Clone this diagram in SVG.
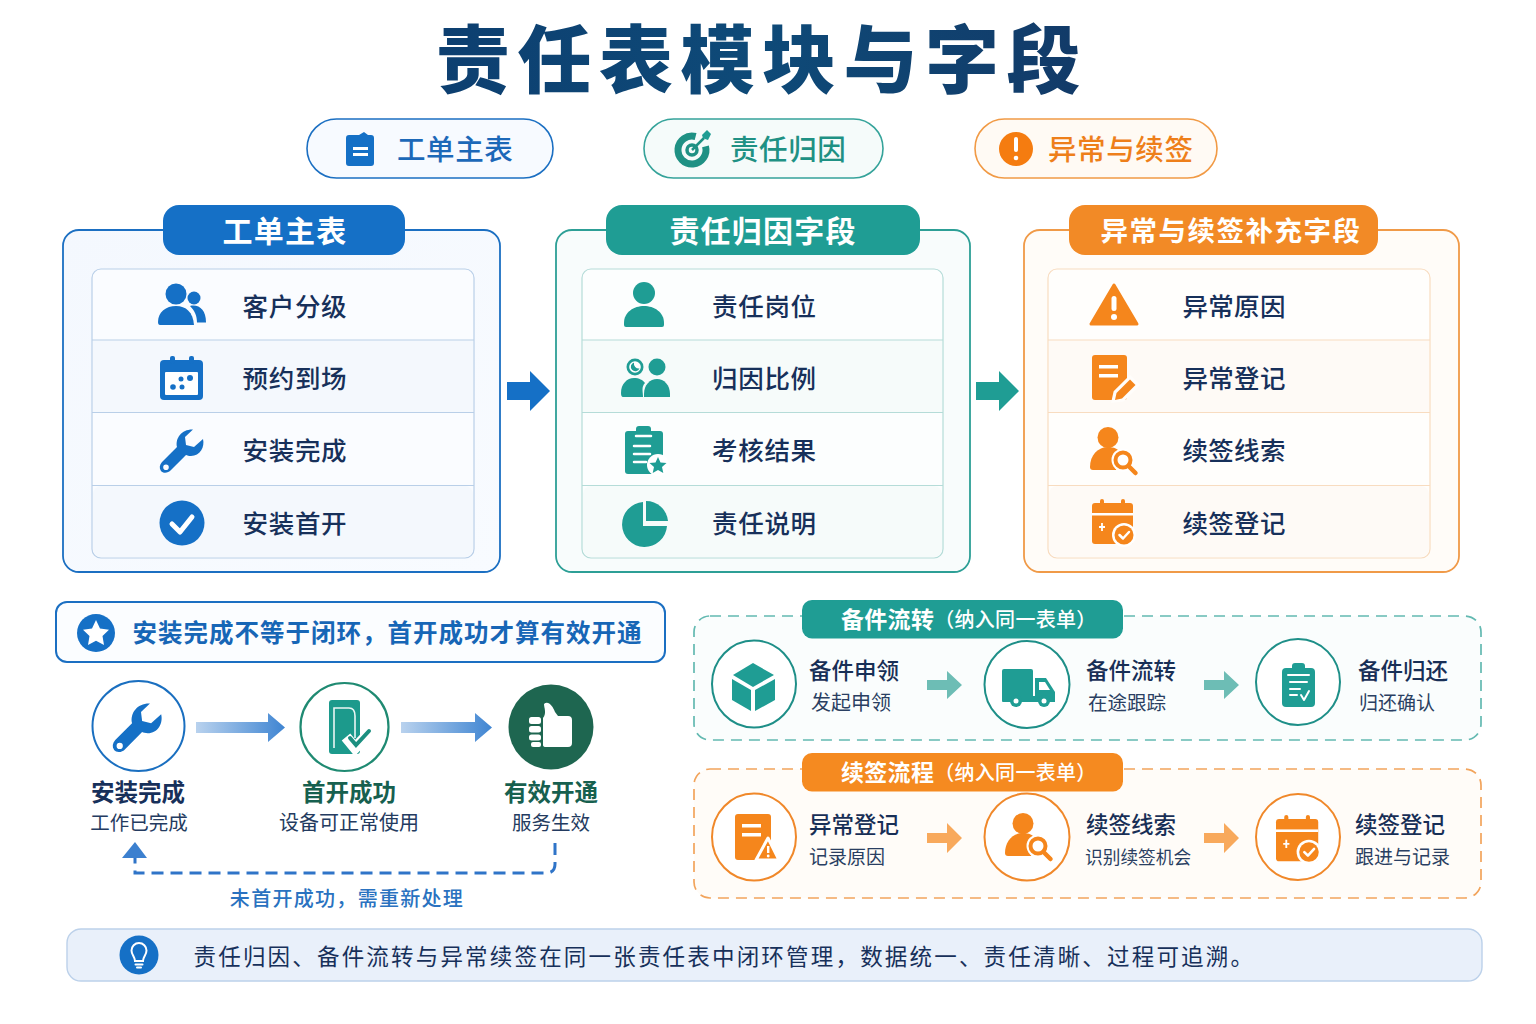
<svg xmlns="http://www.w3.org/2000/svg" width="1536" height="1024" viewBox="0 0 1536 1024">
<style>
text{font-family:"Noto Sans CJK SC","Noto Sans",sans-serif;dominant-baseline:central}
.m{text-anchor:middle}
.hd{font-size:30px;font-weight:700;fill:#fff;letter-spacing:1.2px;text-anchor:middle}
.row{font-size:25.5px;font-weight:500;fill:#17305a;letter-spacing:.7px}
.pill{font-size:28.5px;font-weight:500;letter-spacing:.6px}
.t1{font-size:22.5px;font-weight:500;fill:#182f56}
.t2{font-size:19px;fill:#2a3f62}
.fb{fill:#1570c6}.ft{fill:#1f9d94}.fo{fill:#f5861c}.w{fill:#fff}
.sw{fill:none;stroke:#fff;stroke-linecap:round;stroke-linejoin:round}
.sep{stroke-width:1.2}
.cb{fill:#fff;stroke:#1a6fc0;stroke-width:2}
.ct{fill:#fff;stroke:#1e8f88;stroke-width:2}
.co{fill:#fff;stroke:#f0882a;stroke-width:2}
</style>
<defs>
<linearGradient id="gt" x1="0" x2="1" y1="0" y2="0"><stop offset="0" stop-color="#0d3f70"/><stop offset=".5" stop-color="#0e4a78"/><stop offset="1" stop-color="#123a68"/></linearGradient>
<linearGradient id="ga" x1="0" x2="1" y1="0" y2="0"><stop offset="0" stop-color="#b9d2ee"/><stop offset="1" stop-color="#3f85d2"/></linearGradient>
<linearGradient id="gc1" x1="0" x2="1" y1="0" y2="1"><stop offset="0" stop-color="#f4f8fe"/><stop offset="1" stop-color="#f8fbff"/></linearGradient>
<g id="i-wrench"><path fill-rule="evenodd" d="M33 .5 25 8 26 16 34 18 43 10C45 18 40 27 31 27 29 27 27 26.500 26 26L11 41C8 44.500 3 44.500 1 42-1 39-.5 36 2 33L17 18C15 9 22 0 33 .5ZM6 35.500A2.800 2.800 0 1 0 6 41.100 2.800 2.800 0 1 0 6 35.500Z"/></g>
<g id="i-psearch"><circle cx="18" cy="10.500" r="10.500"/><path d="M0 40C0 28 8 20 18 20 24 20 28 22 31 26L26 43H3Q0 43 0 40Z"/><circle cx="33" cy="33" r="11.500" fill="#fff"/><circle cx="33" cy="33" r="7.500" fill="#fff" stroke="currentColor" stroke-width="4"/><path d="M39 39.500 45.500 46" stroke="currentColor" stroke-width="4.500" stroke-linecap="round"/></g>
<g id="i-calcheck"><rect x="0" y="4" width="41" height="41" rx="3"/><rect x="8" y="0" width="4" height="8" rx="2"/><rect x="29" y="0" width="4" height="8" rx="2"/><rect x="0" y="14" width="41" height="2.500" fill="#fff"/><path d="M10 24V32M7 28H13" stroke="#fff" stroke-width="1.800"/><circle cx="32" cy="36" r="12" fill="#fff"/><circle cx="32" cy="36" r="9.500"/><path d="M27.500 36 31 39.500 37 33" fill="none" stroke="#fff" stroke-width="2.500" stroke-linecap="round" stroke-linejoin="round"/></g>
</defs>
<rect width="1536" height="1024" fill="#fff"/>

<g id="title"><text x="762" y="54.500" class="m" font-size="74" font-weight="900" fill="url(#gt)" letter-spacing="7.500">责任表模块与字段</text></g>

<g id="tab-workorder">
<rect x="307" y="119" width="246" height="59" rx="29.500" fill="#f7faff" stroke="#1b6fc2" stroke-width="1.600"/>
<path class="fb" d="M349 135H359L364 132 368 135H371Q374 135 374 138V163Q374 166 371 166H349Q346 166 346 163V138Q346 135 349 135Z"/>
<rect class="w" x="353" y="147" width="15" height="3"/><rect class="w" x="353" y="153" width="15" height="3"/>
<text x="397" y="147.500" class="pill" fill="#1c68b8">工单主表</text></g>
<g id="tab-attribution">
<rect x="644" y="119" width="239" height="59" rx="29.500" fill="#f5fbfa" stroke="#35a39a" stroke-width="1.600"/>
<path d="M705.500 146.400A14 14 0 1 1 695.600 136.500" fill="none" stroke="#1f9184" stroke-width="7"/>
<circle cx="692" cy="150" r="5" fill="none" stroke="#1f9184" stroke-width="3.500"/>
<path d="M692 150 704 138" stroke="#1f9184" stroke-width="2.500"/>
<path class="ft" d="M702 135 707 130 711 134 710 136 708 140 705 139 703 138Z"/>
<text x="730" y="147.500" class="pill" fill="#1f9184">责任归因</text></g>
<g id="tab-exception">
<rect x="975" y="119" width="242" height="59" rx="29.500" fill="#fffaf4" stroke="#f19a45" stroke-width="1.600"/>
<circle cx="1016" cy="149" r="17" fill="#f57c10"/><rect class="w" x="1014" y="137" width="4" height="15" rx="2"/><circle class="w" cx="1016" cy="158" r="2.300"/>
<text x="1048" y="147.500" class="pill" fill="#ee7f1a">异常与续签</text></g>

<g id="card-workorder">
<rect x="63" y="230" width="437" height="342" rx="16" fill="url(#gc1)" stroke="#1b6fc2" stroke-width="1.800"/>
<rect x="92" y="269" width="382" height="289" rx="9" fill="#fafcff" stroke="#b9cfe8" stroke-width="1.200"/>
<rect x="93" y="340" width="380" height="73" fill="#f4f8fd"/><rect x="93" y="486" width="380" height="71" rx="8" fill="#f4f8fd"/>
<path class="sep" stroke="#b9cfe8" d="M92 340H474M92 412.500H474M92 485.500H474"/>
<rect x="163" y="205" width="242" height="50" rx="16" class="fb"/>
<text x="285" y="228.500" class="hd">工单主表</text>
<g class="fb"><circle cx="176" cy="294" r="10.500"/><circle cx="194" cy="298" r="6.500"/>
<path d="M158 322C158 312 166 306 176 306 186 306 193 312 194 325H160Q158 325 158 322Z"/><path d="M190 306C199 304 206 310 206 322Q206 322 206 322.500H197C197 316 195 311 190 306Z"/></g>
<text x="242.500" y="304.500" class="row">客户分级</text>
<g class="fb"><rect x="160" y="360" width="43" height="40" rx="4"/><rect x="170" y="356" width="5" height="8" rx="2"/><rect x="189" y="356" width="5" height="8" rx="2"/></g>
<rect class="w" x="165" y="372" width="33" height="23" rx="1"/>
<g class="fb"><circle cx="173" cy="387" r="2.800"/><circle cx="181" cy="379" r="2.500"/><circle cx="182" cy="387" r="2.500"/><circle cx="190" cy="378" r="3"/></g>
<use href="#i-wrench" class="fb" x="160" y="429"/>
<text x="242.500" y="376.500" class="row">预约到场</text>
<text x="242.500" y="448.500" class="row">安装完成</text>
<circle class="fb" cx="182" cy="523" r="22.500"/><path class="sw" stroke-width="5" d="M172 524 180 532 192 517"/>
<text x="242.500" y="521.500" class="row">安装首开</text>
</g>

<g id="card-attribution">
<rect x="556" y="230" width="414" height="342" rx="16" fill="#f8fcfc" stroke="#2d9f96" stroke-width="1.800"/>
<rect x="582" y="269" width="361" height="289" rx="9" fill="#fcfefe" stroke="#b5dcd8" stroke-width="1.200"/>
<rect x="583" y="340" width="359" height="73" fill="#f6fbfa"/><rect x="583" y="486" width="359" height="71" rx="8" fill="#f6fbfa"/>
<path class="sep" stroke="#b5dcd8" d="M582 340H943M582 412.500H943M582 485.500H943"/>
<rect x="606" y="205" width="314" height="50" rx="16" class="ft"/>
<text x="763" y="228.500" class="hd">责任归因字段</text>
<g class="ft"><circle cx="644" cy="293" r="11"/><path d="M624 323C624 312 634 306 644 306 654 306 664 312 664 323V325Q664 327 662 327H626Q624 327 624 325Z"/></g>
<text x="712" y="304.500" class="row">责任岗位</text>
<g class="ft"><circle cx="635" cy="367" r="8.500"/><circle cx="657" cy="367" r="8.500"/><path d="M621 393C621 384 627 378 634 378 639 378 643 380 645 383 641 387 643 392 643 397H623Q621 397 621 393Z"/><path d="M644 394C644 385 650 379 657 379 664 379 670 385 670 394V397H644Z"/></g>
<circle class="w" cx="635" cy="367" r="5.800"/>
<path class="ft" d="M634 362.500A4.500 4.500 0 1 0 639.500 368.500 5 5 0 0 1 634 362.500Z"/>
<text x="712" y="376.500" class="row">归因比例</text>
<g class="ft"><rect x="625" y="431" width="38" height="43" rx="3"/><rect x="636" y="426" width="15" height="9" rx="3"/></g>
<path class="sw" stroke-width="2.500" d="M636 436H651M634 446H650M634 454H650M634 462H646"/>
<circle class="w" cx="658" cy="465" r="11"/>
<path class="ft" d="M658 457 660.500 462.500 666.500 463 662 467 663.300 473 658 470 652.700 473 654 467 649.500 463 655.500 462.500Z"/>
<text x="712" y="448.500" class="row">考核结果</text>
<g class="ft"><path d="M643 502A22.500 22.500 0 1 0 667 526H643Z"/><path d="M646 501A22 22 0 0 1 668 521H646Z"/></g>
<text x="712" y="521.500" class="row">责任说明</text>
</g>

<g id="card-exception">
<rect x="1024" y="230" width="435" height="342" rx="16" fill="#fffcf8" stroke="#f09a48" stroke-width="1.800"/>
<rect x="1048" y="269" width="382" height="289" rx="9" fill="#fffefc" stroke="#f8dcc0" stroke-width="1.200"/>
<rect x="1049" y="340" width="380" height="73" fill="#fefaf6"/><rect x="1049" y="486" width="380" height="71" rx="8" fill="#fefaf6"/>
<path class="sep" stroke="#f8dcc0" d="M1048 340H1430M1048 412.500H1430M1048 485.500H1430"/>
<rect x="1069" y="205" width="309" height="50" rx="16" fill="#f28a26"/>
<text x="1231" y="228.500" class="hd" style="font-size:27.500px;letter-spacing:1.500px">异常与续签补充字段</text>
<path class="fo" stroke="#f5861c" stroke-width="3" stroke-linejoin="round" d="M1114 285 1137 324H1091Z"/>
<rect class="w" x="1111.500" y="296" width="5" height="15" rx="2.500"/><circle class="w" cx="1114" cy="317" r="3"/>
<text x="1182.500" y="304.500" class="row" style="letter-spacing:.3px">异常原因</text>
<rect class="fo" x="1092" y="355" width="35" height="45" rx="3"/>
<rect class="w" x="1099" y="365" width="19" height="3.500"/><rect class="w" x="1099" y="374" width="19" height="3.500"/>
<path d="M1113 401 1115 392 1130 377 1138 385 1123 400Z" fill="#fffdfb" stroke="#fffdfb" stroke-width="3"/>
<path class="fo" d="M1115 400 1116.500 393 1130 379.500 1135.500 385 1122 398.500Z"/>
<text x="1182.500" y="376.500" class="row" style="letter-spacing:.3px">异常登记</text>
<use href="#i-psearch" x="1090" y="427" class="fo" color="#f5861c"/>
<text x="1182.500" y="448.500" class="row" style="letter-spacing:.3px">续签线索</text>
<use href="#i-calcheck" x="1092" y="499" class="fo"/>
<text x="1182.500" y="521.500" class="row" style="letter-spacing:.3px">续签登记</text>
</g>

<g id="note">
<rect x="56" y="602" width="609" height="60" rx="11" fill="#fbfdff" stroke="#1b6fc2" stroke-width="2"/>
<circle class="fb" cx="96" cy="633" r="19"/>
<path class="w" d="M96 620 100 628.500 109 629.700 102.500 636 104 645 96 640.700 88 645 89.500 636 83 629.700 92 628.500Z"/>
<text x="132.500" y="631" font-size="24.500" font-weight="700" fill="#1766b6" letter-spacing="1">安装完成不等于闭环，首开成功才算有效开通</text>
</g>

<g id="step-install">
<ellipse cx="138.500" cy="726" rx="46" ry="45" class="cb"/>
<use href="#i-wrench" class="fb" transform="translate(113 703) scale(1.120)"/>
<text x="138" y="791" class="m" font-size="23.500" font-weight="700" fill="#17305a">安装完成</text>
<text x="139" y="821" class="m" font-size="19.500" fill="#243b60">工作已完成</text>
</g>
<g id="step-open">
<ellipse cx="344.500" cy="727" rx="44" ry="44" fill="#fff" stroke="#1f8a72" stroke-width="2.200"/>
<rect x="329" y="700" width="31" height="54" rx="3" fill="#1c9a8c"/>
<path fill="none" stroke="#eaf6f4" stroke-width="1.600" d="M334 748V708H349Q355 708 355 716V738"/>
<path d="M346 737 355 748 373 729" fill="none" stroke="#fff" stroke-width="11"/>
<path d="M350 738 356 745 369 731" fill="none" stroke="#1c8f80" stroke-width="4" stroke-linecap="round"/>
<text x="349" y="791" class="m" font-size="23.500" font-weight="700" fill="#17604f">首开成功</text>
<text x="349" y="821" class="m" font-size="20" fill="#243b60">设备可正常使用</text>
</g>
<g id="step-effective">
<circle cx="551" cy="727" r="42.500" fill="#1e6650"/>
<path class="w" d="M543 718C547 713 544 708 544 704 548 700 553 706 555 712L558 716H568Q572 716 572 720V743Q572 747 568 747H546Q543 747 543 745Z"/>
<rect class="w" x="529" y="717" width="12" height="7" rx="2.500"/><rect class="w" x="529" y="726" width="12" height="6.500" rx="2.500"/><rect class="w" x="529" y="734.500" width="12" height="6" rx="2.500"/><rect class="w" x="531" y="742" width="10" height="5" rx="2"/>
<text x="551" y="791" class="m" font-size="23.500" font-weight="700" fill="#17604f">有效开通</text>
<text x="551" y="821" class="m" font-size="19.500" fill="#243b60">服务生效</text>
</g>

<g id="parts-flow">
<rect x="694" y="616" width="787" height="124" rx="16" fill="#fafdfd" stroke="#63b9b1" stroke-width="1.700" stroke-dasharray="11 7"/>
<rect x="802" y="600" width="321" height="38.500" rx="10" class="ft"/>
<text x="841" y="618" font-size="23" font-weight="700" fill="#fff" letter-spacing=".3">备件流转<tspan font-size="20" font-weight="500">（纳入同一表单）</tspan></text>
</g>
<g id="part-apply">
<ellipse cx="754" cy="684" rx="42" ry="43.500" class="ct"/>
<g class="ft"><path d="M753 663 774 675 753 687 733 675Z"/><path d="M732 679 751 690V711L732 700Z"/><path d="M775 679 755 690V711L775 700Z"/></g>
<text x="809" y="669" class="t1">备件申领</text><text x="811" y="701.500" class="t2" style="font-size:20px">发起申领</text>
</g>
<g id="part-transfer">
<ellipse cx="1027" cy="684.500" rx="42.500" ry="43.500" class="ct"/>
<g class="ft"><rect x="1002" y="669" width="31" height="31" rx="2"/><path d="M1035 678H1046L1055 692V702H1035Z"/><rect x="1002" y="696" width="53" height="6" rx="1"/><circle cx="1016" cy="701" r="6"/><circle cx="1044" cy="701" r="6"/></g>
<path class="w" d="M1039 682H1045L1050 690H1039Z"/><circle class="w" cx="1016" cy="701" r="2.500"/><circle class="w" cx="1044" cy="701" r="2.500"/>
<text x="1086" y="669" class="t1">备件流转</text><text x="1088" y="701.500" class="t2" style="font-size:19.500px">在途跟踪</text>
</g>
<g id="part-return">
<ellipse cx="1298" cy="682" rx="42" ry="43" class="ct"/>
<rect class="ft" x="1282" y="668" width="33" height="39" rx="4"/><rect class="ft" x="1292" y="663" width="13" height="8" rx="3"/>
<path class="sw" stroke-width="2" d="M1288 675H1309M1290 682H1307M1290 689H1300M1290 695H1297M1301 695 1304 700 1309 691"/>
<text x="1358" y="669" class="t1">备件归还</text><text x="1359" y="701.500" class="t2">归还确认</text>
</g>

<g id="renew-flow">
<rect x="694" y="769" width="787" height="129" rx="16" fill="#fffcf8" stroke="#f2a45c" stroke-width="1.700" stroke-dasharray="11 7"/>
<rect x="802" y="753" width="321" height="38.500" rx="10" fill="#f58a20"/>
<text x="841" y="771" font-size="23" font-weight="700" fill="#fff" letter-spacing=".3">续签流程<tspan font-size="20" font-weight="500">（纳入同一表单）</tspan></text>
</g>
<g id="renew-record">
<ellipse cx="754" cy="837" rx="42" ry="43.500" class="co"/>
<rect class="fo" x="735" y="814" width="36" height="46" rx="3"/>
<rect class="w" x="742" y="824" width="19" height="3.500"/><rect class="w" x="742" y="833" width="19" height="3.500"/>
<path class="fo" stroke="#fff" stroke-width="3" stroke-linejoin="round" d="M768 838 779 860H756Z"/>
<rect class="w" x="767" y="846" width="2.400" height="7"/><circle class="w" cx="768.200" cy="856" r="1.400"/>
<text x="809" y="823" class="t1">异常登记</text><text x="809" y="855.500" class="t2">记录原因</text>
</g>
<g id="renew-lead">
<ellipse cx="1027" cy="837" rx="42.500" ry="43.500" class="co"/>
<use href="#i-psearch" x="1005" y="813" class="fo" color="#f5861c"/>
<text x="1086" y="823" class="t1">续签线索</text><text x="1085" y="855.500" class="t2" style="font-size:17.700px">识别续签机会</text>
</g>
<g id="renew-register">
<ellipse cx="1298" cy="837" rx="42" ry="43" class="co"/>
<use href="#i-calcheck" class="fo" transform="translate(1276 815) scale(1.030)"/>
<text x="1355" y="823" class="t1">续签登记</text><text x="1355" y="855.500" class="t2">跟进与记录</text>
</g>

<g id="summary">
<rect x="67" y="929" width="1415" height="52" rx="14" fill="#e9f0fa" stroke="#bcd1ea" stroke-width="1.400"/>
<circle class="fb" cx="139" cy="955" r="19.500"/>
<path d="M135 961C135 957 131.500 955 131.500 950.500A7.500 7.500 0 0 1 146.500 950.500C146.500 955 143 957 143 961Z" fill="none" stroke="#fff" stroke-width="2"/>
<path class="sw" stroke-width="2" d="M135.500 964.500H142.500M137 967.500H141"/>
<text x="193.500" y="955" font-size="22.500" fill="#17305a" letter-spacing="2.190">责任归因、备件流转与异常续签在同一张责任表中闭环管理，数据统一、责任清晰、过程可追溯。</text>
</g>

<g id="connectors">
<path fill="#1570c6" d="M507 382H530V371L550 391 530 411V400H507Z"/>
<path fill="#1f9d94" d="M976 382H999V371L1019 391 999 411V400H976Z"/>
<path fill="url(#ga)" d="M196 722H268V713L285 727.500 268 742V733H196Z"/>
<path fill="url(#ga)" d="M401 722H475V713L492 727.500 475 742V733H401Z"/>
<path d="M555 843V864Q555 873 546 873H135V858" fill="none" stroke="#2f74c8" stroke-width="3" stroke-dasharray="12 7"/>
<path fill="#3c80cf" d="M135 842 147 858H122Z"/>
<path fill="#6dbdb5" d="M927 680H947V671L962 685 947 699V690H927Z"/>
<path fill="#6dbdb5" d="M1204 680H1224V671L1239 685 1224 699V690H1204Z"/>
<path fill="#f8a95c" d="M927 833H947V823L962 838 947 853V843H927Z"/>
<path fill="#f8a95c" d="M1204 833H1224V823L1239 838 1224 853V843H1204Z"/>
</g>
<text x="347" y="897" class="m" font-size="20" font-weight="500" fill="#2a72c0" letter-spacing="1.300">未首开成功，需重新处理</text>
</svg>
